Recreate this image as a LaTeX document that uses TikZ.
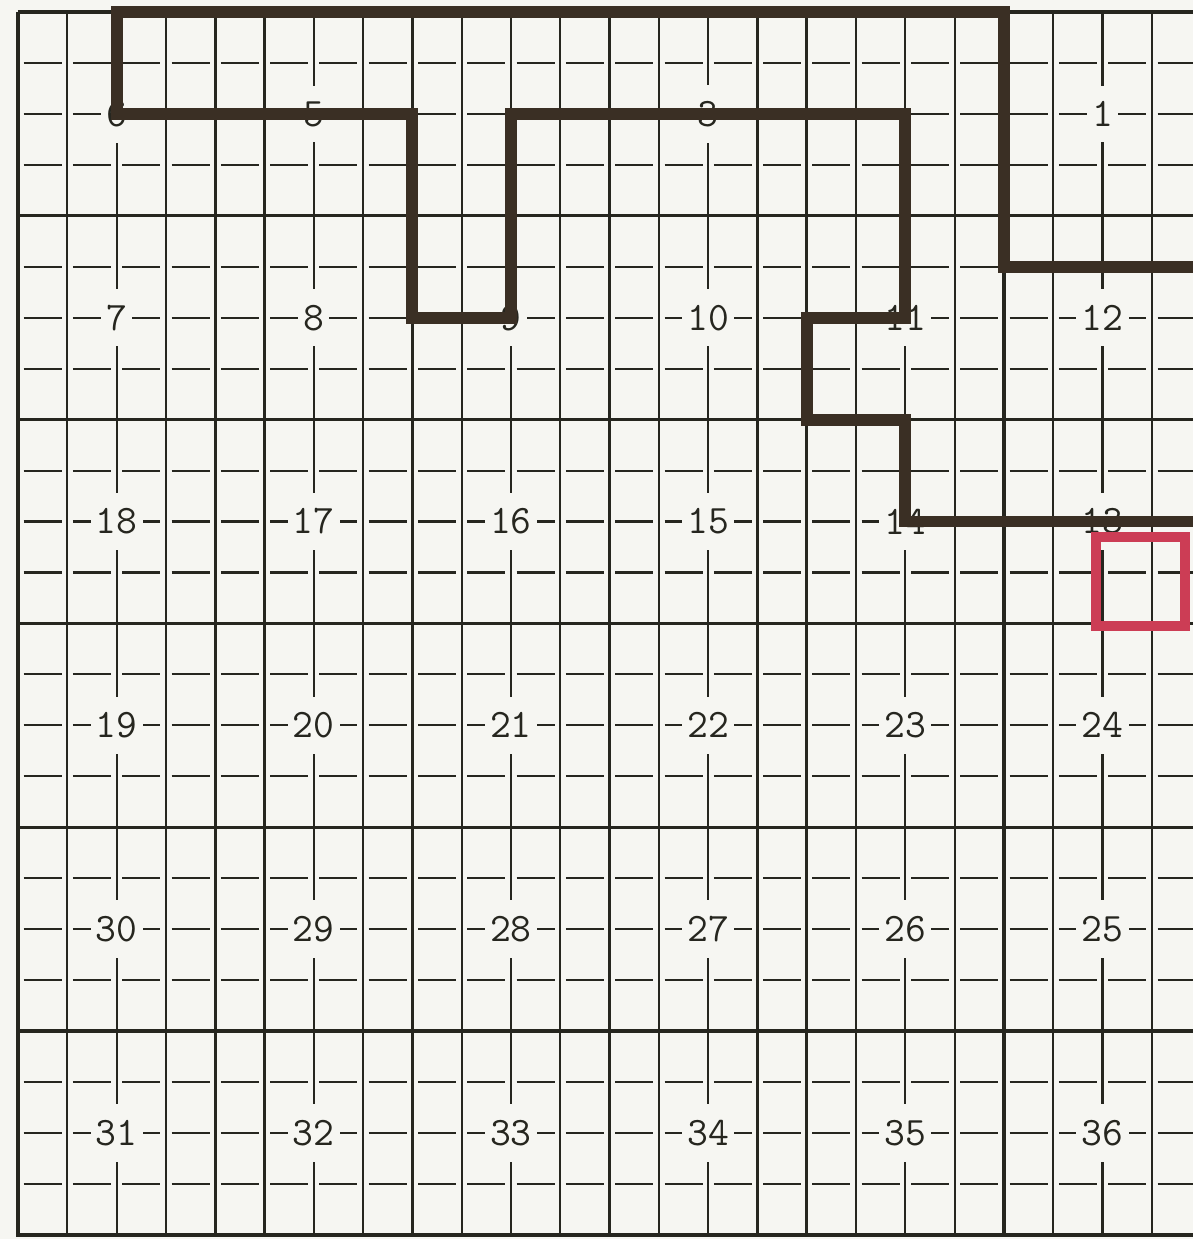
\documentclass[tikz,border=0pt]{standalone}
\definecolor{PlatInk}{HTML}{26261F}
\definecolor{PlatPath}{HTML}{3A2F24}
\definecolor{PlatRed}{HTML}{CC3D55}
\definecolor{PlatPaper}{HTML}{F6F6F2}
\tikzset{
  minorline/.style={PlatInk,line width=0.6pt},
  dashrow/.style={minorline,dash pattern=on 0.38cm off 0.113cm,dash phase=0.4365cm},
  secline/.style={PlatInk,line width=0.9pt},
  secnum/.style={font=\fontsize{11.5}{13}\ttfamily,text=PlatInk,fill=PlatPaper,inner xsep=1.5pt,inner ysep=4.5pt},
  boundary/.style={PlatPath,line width=3.4pt,line join=miter},
}
\begin{document}
\begin{tikzpicture}[x=0.493cm,y=0.5095cm]
  \clip (-0.365,0.236) rectangle (23.834,-24.083);
  \fill[PlatPaper] (-0.365,0.236) rectangle (23.834,-24.083);
  % small squares
  \foreach \c in {1,2,3,5,6,7,9,10,11,13,14,15,17,18,19,21,22,23}
    \draw[minorline] (\c,0) -- (\c,-24);
  \foreach \r in {1,2,3,5,6,7,9,10,11,13,14,15,17,18,19,21,22,23}
    \draw[dashrow] (0,-\r) -- (24,-\r);
  % section lines
  \foreach \c in {4,8,12,16,20}
    \draw[secline] (\c,0) -- (\c,-24);
  \foreach \r in {0,4,8,12,16,20}
    \draw[secline] (0,-\r) -- (24,-\r);
  \draw[PlatInk,line width=1.3pt] (0,0) -- (0,-24) -- (24,-24);
  % section numbers
  \node[secnum] (s6) at (2,-2) {6};
  \node[secnum] (s5) at (6,-2) {5};
  \node[secnum] (s3) at (14,-2) {3};
  \node[secnum] (s1) at (22,-2) {1};
  \node[secnum] (s7) at (2,-6) {7};
  \node[secnum] (s8) at (6,-6) {8};
  \node[secnum] (s9) at (10,-6) {9};
  \node[secnum] (s10) at (14,-6) {10};
  \node[secnum] (s11) at (18,-6) {11};
  \node[secnum] (s12) at (22,-6) {12};
  \node[secnum] (s18) at (2,-10) {18};
  \node[secnum] (s17) at (6,-10) {17};
  \node[secnum] (s16) at (10,-10) {16};
  \node[secnum] (s15) at (14,-10) {15};
  \node[secnum] (s14) at (18,-10) {14};
  \node[secnum] (s13) at (22,-10) {13};
  \node[secnum] (s19) at (2,-14) {19};
  \node[secnum] (s20) at (6,-14) {20};
  \node[secnum] (s21) at (10,-14) {21};
  \node[secnum] (s22) at (14,-14) {22};
  \node[secnum] (s23) at (18,-14) {23};
  \node[secnum] (s24) at (22,-14) {24};
  \node[secnum] (s30) at (2,-18) {30};
  \node[secnum] (s29) at (6,-18) {29};
  \node[secnum] (s28) at (10,-18) {28};
  \node[secnum] (s27) at (14,-18) {27};
  \node[secnum] (s26) at (18,-18) {26};
  \node[secnum] (s25) at (22,-18) {25};
  \node[secnum] (s31) at (2,-22) {31};
  \node[secnum] (s32) at (6,-22) {32};
  \node[secnum] (s33) at (10,-22) {33};
  \node[secnum] (s34) at (14,-22) {34};
  \node[secnum] (s35) at (18,-22) {35};
  \node[secnum] (s36) at (22,-22) {36};
  % boundary and parcel
  \draw[boundary] (24,-5) -- (20,-5) -- (20,0) -- (2,0) -- (2,-2) -- (8,-2) -- (8,-6) -- (10,-6)
    -- (10,-2) -- (18,-2) -- (18,-6) -- (16,-6) -- (16,-8) -- (18,-8) -- (18,-10) -- (24,-10);
  \draw[PlatRed,line width=2.8pt] (21.87,-10.3) rectangle (23.67,-12.05);
\end{tikzpicture}
\end{document}
